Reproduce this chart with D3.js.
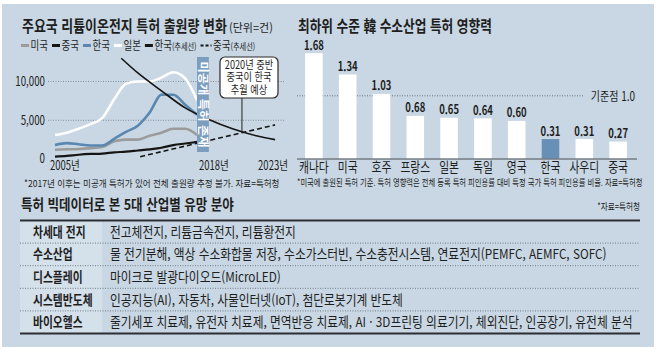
<!DOCTYPE html>
<html lang="ko">
<head>
  <meta charset="UTF-8">
  <title>리튬이온전지 · 수소산업 특허</title>
  <script src='https://d3js.org/d3.v7.min.js'></script>
  <style>
    body { margin: 0; background: #fff; }
    text { font-family: 'Noto Sans CJK KR', 'Noto Sans', sans-serif; fill: #1e1e1e; }
  </style>
</head>
<body>
</body>
<script>
  const width = 658, height = 351;

  // ---- line chart data (건) ----
  const years = [2005, 2006, 2007, 2008, 2009, 2010, 2011, 2012, 2013, 2014, 2015, 2016, 2017];
  const usa   = [1200, 1250, 1300, 1400, 1550, 2300, 2500, 2500, 3000, 3400, 3900, 3900, 3100];
  const china = [300, 400, 550, 650, 700, 850, 950, 1100, 1250, 1450, 1800, 2000, 2200];
  const korea = [1800, 2050, 1900, 1750, 1750, 2600, 3500, 4300, 6000, 8300, 8300, 7000, 5700];
  const japan = [3100, 3400, 3900, 4500, 5300, 7700, 9700, 10000, 10000, 10500, 11200, 10400, 7600];
  const koreaTrendYears = [2010.6, 2012, 2014, 2016, 2018, 2020, 2022, 2023.6];
  const koreaTrend = [13000, 11100, 8800, 6600, 5100, 3900, 3000, 2500];
  const chinaTrendYears = [2012.2, 2023.6];
  const chinaTrend = [300, 4400];
  const yTicks = [0, 5000, 10000];
  const xTicks = [2005, 2018, 2023];

  // ---- bar chart data ----
  const countries = ['캐나다', '미국', '호주', '프랑스', '일본', '독일', '영국', '한국', '사우디', '중국'];
  const impact = [1.68, 1.34, 1.03, 0.68, 0.65, 0.64, 0.60, 0.31, 0.31, 0.27];

  // ---- table data ----
  const industries = ['차세대 전지', '수소산업', '디스플레이', '시스템반도체', '바이오헬스'];
  const fields = [
    '전고체전지, 리튬금속전지, 리튬황전지',
    '물 전기분해, 액상 수소화합물 저장, 수소가스터빈, 수소충전시스템, 연료전지(PEMFC, AEMFC, SOFC)',
    '마이크로 발광다이오드(MicroLED)',
    '인공지능(AI), 자동차, 사물인터넷(IoT), 첨단로봇기계 반도체',
    '줄기세포 치료제, 유전자 치료제, 면역반응 치료제, AI · 3D프린팅 의료기기, 체외진단, 인공장기, 유전체 분석'
  ];

  const svg = d3.select('body').append('svg').attr('width', width).attr('height', height);
  svg.append('rect').attr('x', 2).attr('y', 4).attr('width', 652).attr('height', 343).attr('fill', '#c8d7e3');

  // narrow the text horizontally (the original uses a condensed face)
  function condense(sel, k) {
    sel.each(function() {
      const t = d3.select(this);
      const x0 = +t.attr('x') || 0;
      const tr = t.attr('transform');
      t.attr('x', 0).attr('transform', (tr ? tr + ' ' : '') + `translate(${x0},0) scale(${k},1)`);
      this.__w = this.getComputedTextLength() * k;
    });
    return sel;
  }
  function fit(sel, w) {
    sel.each(function() {
      condense(d3.select(this), w / this.getComputedTextLength());
    });
    return sel;
  }

  // ================= LEFT: line chart =================
  const x = d3.scaleLinear().domain([2005, 2023]).range([55, 268]);
  const y = d3.scaleLinear().domain([0, 10000]).range([159, 81.5]);

  fit(svg.append('text').attr('x', 22).attr('y', 32).attr('font-size', 15.5).attr('font-weight', 700)
    .text('주요국 리튬이온전지 특허 출원량 변화'), 205);
  fit(svg.append('text').attr('x', 229).attr('y', 32).attr('font-size', 11.5)
    .text('(단위=건)'), 44);

  // legend
  const legend = [
    {name: '미국', color: '#9b9b9b'},
    {name: '중국', color: '#151515'},
    {name: '한국', color: '#5a87b0'},
    {name: '일본', color: '#ffffff'},
    {name: '한국', sub: '(추세선)', color: '#151515'},
    {name: '중국', sub: '(추세선)', color: '#151515', dash: true}
  ];
  let lx = 21;
  legend.forEach(function(d) {
    const sw = d.dash ? 11 : 8;
    svg.append('line').attr('x1', lx).attr('x2', lx + sw).attr('y1', 45.5).attr('y2', 45.5)
      .attr('stroke', d.color).attr('stroke-width', d.dash ? 1.8 : 3)
      .attr('stroke-dasharray', d.dash ? '3,2' : null);
    lx += sw + 1.5;
    const t = condense(svg.append('text').attr('x', lx).attr('y', 50).attr('font-size', 12.5).text(d.name), 0.76);
    lx += t.node().__w;
    if (d.sub) {
      const s = condense(svg.append('text').attr('x', lx).attr('y', 50).attr('font-size', 9).text(d.sub), 0.8);
      lx += s.node().__w;
    }
    lx += 4;
  });

  // grid + y labels
  svg.selectAll('.grid').data(yTicks.filter(d => d > 0)).join('line')
    .attr('x1', 48).attr('x2', 284).attr('y1', d => y(d)).attr('y2', d => y(d))
    .attr('stroke', '#6f7c88').attr('stroke-width', 0.8).attr('stroke-dasharray', '1,1.5');
  condense(svg.selectAll('.ylab').data(yTicks).join('text')
    .attr('x', 45).attr('y', d => y(d) + 4.5).attr('text-anchor', 'end').attr('font-size', 12.5)
    .text(d3.format(',')), 0.78);

  condense(svg.selectAll('.xlab').data(xTicks).join('text')
    .attr('x', (d, i) => i === 0 ? x(d) - 5 : x(d) + 5)
    .attr('y', 170.5).attr('font-size', 12.5)
    .attr('text-anchor', (d, i) => i === 0 ? 'start' : 'middle')
    .text(d => d + '년'), 0.76);

  const line = d3.line().x(d => x(d[0])).y(d => y(d[1])).curve(d3.curveMonotoneX);
  const series = [
    {vals: japan, color: '#ffffff', w: 2.6},
    {vals: usa, color: '#9b9b9b', w: 2.6},
    {vals: korea, color: '#5a87b0', w: 2.6},
    {vals: china, color: '#151515', w: 2.2}
  ];
  series.forEach(function(s) {
    svg.append('path').datum(years.map((yr, i) => [yr, s.vals[i]]))
      .attr('d', line).attr('fill', 'none').attr('stroke', s.color).attr('stroke-width', s.w);
  });
  svg.append('path').datum(koreaTrendYears.map((yr, i) => [yr, koreaTrend[i]]))
    .attr('d', line).attr('fill', 'none').attr('stroke', '#151515').attr('stroke-width', 1.6);
  svg.append('path').datum(chinaTrendYears.map((yr, i) => [yr, chinaTrend[i]]))
    .attr('d', d3.line().x(d => x(d[0])).y(d => y(d[1])))
    .attr('fill', 'none').attr('stroke', '#151515').attr('stroke-width', 1.6).attr('stroke-dasharray', '5,3');

  // unpublished band
  const bandTop = 57, bandBot = y(0) - 7;
  svg.append('rect').attr('x', x(2017)).attr('y', bandTop).attr('width', x(2018) - x(2017)).attr('height', bandBot - bandTop)
    .attr('fill', '#7b9dbe');
  const bandT = svg.append('text').attr('font-size', 11).attr('font-weight', 700)
    .style('fill', '#fff').attr('text-anchor', 'middle')
    .attr('transform', `translate(${(x(2017) + x(2018)) / 2 - 4},${(bandTop + bandBot) / 2}) rotate(90)`)
    .text('미공개 특허 존재');
  fit(bandT, 86);

  // annotation
  const crossYear = 2020.8;
  svg.append('line').attr('x1', x(crossYear)).attr('x2', x(crossYear)).attr('y1', 98).attr('y2', y(3500))
    .attr('stroke', '#222').attr('stroke-width', 1);
  svg.append('rect').attr('x', 220).attr('y', 57).attr('width', 58).attr('height', 41).attr('rx', 5)
    .attr('fill', '#fff').attr('stroke', '#2a2a2a').attr('stroke-width', 1.2);
  ['2020년 중반', '중국이 한국', '추월 예상'].forEach(function(t, i) {
    condense(svg.append('text').attr('x', 249).attr('y', 69 + i * 12.4).attr('text-anchor', 'middle')
      .attr('font-size', 11.5).text(t), 0.8);
  });

  fit(svg.append('text').attr('x', 24).attr('y', 187.5).attr('font-size', 9.5).attr('fill', '#333')
    .text('*2017년 이후는 미공개 특허가 있어 전체 출원량 추정 불가. 자료=특허청'), 256);

  // ================= RIGHT: bar chart =================
  fit(svg.append('text').attr('x', 298).attr('y', 32).attr('font-size', 15.5).attr('font-weight', 700)
    .text('최하위 수준 韓 수소산업 특허 영향력'), 194);

  const xb = d3.scaleBand().domain(countries).range([297, 635]).paddingInner(0.48).paddingOuter(0.24);
  const yb = d3.scaleLinear().domain([0, 1]).range([158.5, 95.8]);

  svg.append('line').attr('x1', 297).attr('x2', 583).attr('y1', yb(1)).attr('y2', yb(1))
    .attr('stroke', '#5d6a75').attr('stroke-width', 0.9).attr('stroke-dasharray', '1,1.5');
  condense(svg.append('text').attr('x', 635).attr('y', yb(1) + 5).attr('text-anchor', 'end')
    .attr('font-size', 12.5).text('기준점 1.0'), 0.8);

  svg.selectAll('.bar').data(impact).join('rect')
    .attr('x', (d, i) => xb(countries[i])).attr('width', xb.bandwidth())
    .attr('y', d => yb(d)).attr('height', d => yb(0) - yb(d))
    .attr('fill', (d, i) => countries[i] === '한국' ? '#6890b6' : '#ffffff');

  svg.append('line').attr('x1', 297).attr('x2', 637).attr('y1', yb(0) + 0.5).attr('y2', yb(0) + 0.5)
    .attr('stroke', '#4a4f55').attr('stroke-width', 1);

  condense(svg.selectAll('.val').data(impact).join('text')
    .attr('x', (d, i) => xb(countries[i]) + xb.bandwidth() / 2).attr('y', d => yb(d) - 3.5)
    .attr('text-anchor', 'middle').attr('font-size', 12.5).attr('font-weight', 700)
    .text(d => d.toFixed(2)), 0.76);

  condense(svg.selectAll('.cat').data(countries).join('text')
    .attr('x', d => xb(d) + xb.bandwidth() / 2).attr('y', 172.5)
    .attr('text-anchor', 'middle').attr('font-size', 13.5).text(d => d), 0.8);

  fit(svg.append('text').attr('x', 297).attr('y', 186.5).attr('font-size', 9.5).attr('fill', '#333')
    .text('*미국에 출원된 특허 기준. 특허 영향력은 전체 등록 특허 피인용률 대비 특정 국가 특허 피인용률 비율. 자료=특허청'), 346);

  // ================= BOTTOM: table =================
  fit(svg.append('text').attr('x', 21).attr('y', 210).attr('font-size', 15).attr('font-weight', 700)
    .text('특허 빅데이터로 본 5대 산업별 유망 분야'), 213);
  condense(svg.append('text').attr('x', 640).attr('y', 210).attr('text-anchor', 'end').attr('font-size', 9.5)
    .attr('fill', '#333').text('*자료=특허청'), 0.8);

  const rowH = 22.6, tTop = 220.5, tLeft = 20, tRight = 640, labW = 82;
  svg.selectAll('.labcell').data(industries).join('rect')
    .attr('x', tLeft).attr('y', (d, i) => tTop + i * rowH).attr('width', labW).attr('height', rowH)
    .attr('fill', '#d4e0ea');
  svg.selectAll('.sep').data(d3.range(1, industries.length)).join('line')
    .attr('x1', tLeft).attr('x2', tRight).attr('y1', i => tTop + i * rowH).attr('y2', i => tTop + i * rowH)
    .attr('stroke', '#59636d').attr('stroke-width', 0.8).attr('stroke-dasharray', '1,1.5');
  [tTop, tTop + industries.length * rowH].forEach(function(yy) {
    svg.append('line').attr('x1', tLeft).attr('x2', tRight).attr('y1', yy).attr('y2', yy)
      .attr('stroke', '#2b2f33').attr('stroke-width', 1.8);
  });
  condense(svg.selectAll('.lab').data(industries).join('text')
    .attr('x', 33).attr('y', (d, i) => tTop + i * rowH + rowH / 2 + 5)
    .attr('font-size', 13.5).attr('font-weight', 700).text(d => d), 0.8);
  condense(svg.selectAll('.field').data(fields).join('text')
    .attr('x', 110).attr('y', (d, i) => tTop + i * rowH + rowH / 2 + 5)
    .attr('font-size', 13.5).text(d => d), 0.87);

  console.log('ready..');
</script>
</html>
